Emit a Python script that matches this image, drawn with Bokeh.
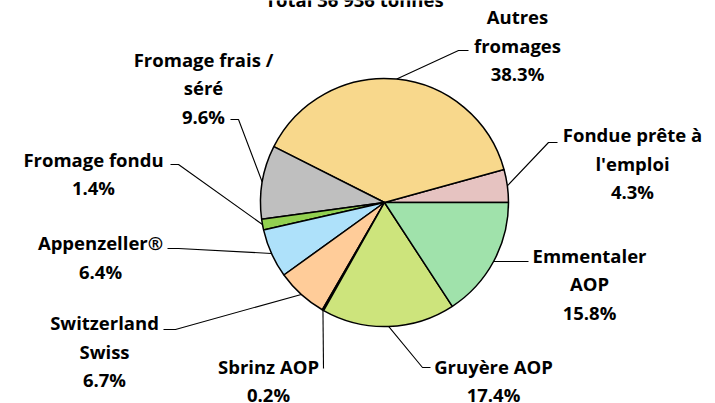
import numpy as np
from bokeh.plotting import figure
from bokeh.models import Range1d, ColumnDataSource
from bokeh.core.properties import value
from bokeh.embed import file_html
from bokeh.resources import INLINE

# ---- data (pie order, counter-clockwise from 3 o'clock) ----
categories = ["Fondue prête à\nl'emploi", "Autres\nfromages", "Fromage frais /\nséré",
              "Fromage fondu", "Appenzeller®", "Switzerland\nSwiss", "Sbrinz AOP",
              "Gruyère AOP", "Emmentaler\nAOP"]
shares = [4.3, 38.3, 9.6, 1.4, 6.4, 6.7, 0.2, 17.4, 15.8]
colors = ["#E6C3C1", "#F8D88C", "#BFBFBF", "#92D050", "#AEE1FA", "#FFCC99", "#D9D9D9",
          "#CDE47C", "#A0E2AB"]
title_text = "Total 36 936 tonnes"

# ---- layout (page pixel coordinates) ----
W, H = 715, 403
def X(px): return px
def Y(py): return H - py

cx, cy, R = X(384), Y(202), 124
label_pos = [(632, 162.5), (517, 44.5), (203, 87), (93, 173), (100, 256.5),
             (104, 350.5), (268, 380), (493, 380), (589, 283)]
leader_pts = [[(548, 142), (557, 142)], [(458, 50), (468, 50)], [(238, 119), (230, 119)],
              [(178, 164), (170, 164)], [(178, 248), (167, 248)], [(175, 329), (163, 329)],
              [(323, 368)], [(422, 367), (430, 367)], [(528, 261)]]

vals = np.array(shares, dtype=float)
frac = vals / vals.sum()
ends = np.cumsum(frac) * 2 * np.pi
starts = np.concatenate([[0.0], ends[:-1]])
mids = (starts + ends) / 2

p = figure(width=W, height=H, x_range=Range1d(0, W), y_range=Range1d(0, H),
           output_backend="svg", toolbar_location=None, min_border=0)
p.axis.visible = False
p.grid.visible = False
p.outline_line_color = None
p.background_fill_color = "white"

src = ColumnDataSource(dict(start=starts, end=ends, color=colors))
p.wedge(x=cx, y=cy, radius=R, start_angle="start", end_angle="end", fill_color="color",
        line_color="black", line_width=1.5, source=src)

xs, ys = [], []
for m, pts in zip(mids, leader_pts):
    sx = cx + R * np.cos(m)
    sy = cy + R * np.sin(m)
    xs.append([sx] + [X(a) for a, b in pts])
    ys.append([sy] + [Y(b) for a, b in pts])
p.multi_line(xs=xs, ys=ys, line_color="black", line_width=1.1)

labels = [f"{c}\n{v:.1f}%" for c, v in zip(categories, shares)]
lsrc = ColumnDataSource(dict(x=[X(a) for a, b in label_pos], y=[Y(b) for a, b in label_pos],
                             text=labels))
p.text(x="x", y="y", text="text", source=lsrc, text_align="center", text_baseline="middle",
       text_font=value("Open Sans"), text_font_style="bold", text_font_size="18.5px",
       text_line_height=1.14, text_color="black")

p.text(x=[X(354)], y=[Y(-1.5)], text=[title_text], text_align="center", text_baseline="alphabetic",
       text_font=value("Open Sans"), text_font_style="bold", text_font_size="18.5px",
       text_color="black")

open("out.html", "w").write(file_html(p, INLINE))
